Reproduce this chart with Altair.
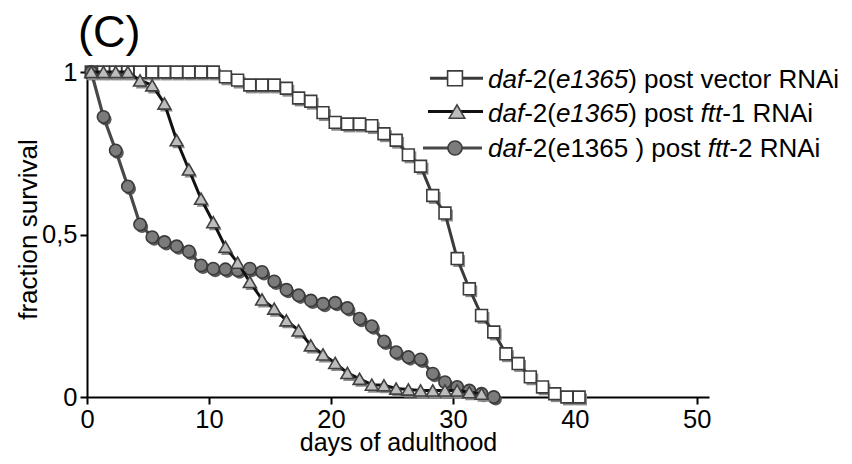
import altair as alt
import pandas as pd

# ---------------- data ----------------
SQ_DAYS = [0.35, 1.35, 2.35, 3.35, 4.35, 5.35, 6.35, 7.35, 8.35, 9.35, 10.35,
           11.35, 12.35, 13.35, 14.35, 15.35, 16.35, 17.35, 18.35, 19.35, 20.35,
           21.35, 22.35, 23.35, 24.35, 25.35, 26.35, 27.35, 28.35, 29.35, 30.35,
           31.35, 32.35, 33.35, 34.35, 35.35, 36.35, 37.35, 38.35, 39.35, 40.35]
SQ_VALS = [1.0, 1.0, 1.0, 1.0, 1.0, 1.0, 1.0, 1.0, 1.0, 1.0, 1.0,
           0.985, 0.975, 0.96, 0.96, 0.96, 0.95, 0.92, 0.91, 0.875, 0.845,
           0.84, 0.84, 0.835, 0.81, 0.79, 0.745, 0.71, 0.62, 0.566, 0.426,
           0.333, 0.251, 0.2, 0.133, 0.103, 0.062, 0.031, 0.01, 0.0, 0.0]

TR_DAYS = [0.35, 1.35, 2.35, 3.35, 4.35, 5.35, 6.35, 7.35, 8.35, 9.35, 10.35,
           11.35, 12.35, 13.35, 14.35, 15.35, 16.35, 17.35, 18.35, 19.35, 20.35,
           21.35, 22.35, 23.35, 24.35, 25.35, 26.35, 27.35, 28.35, 29.35, 30.35,
           31.35, 32.35]
TR_VALS = [1.0, 1.0, 1.0, 1.0, 0.974, 0.959, 0.903, 0.79, 0.70, 0.61, 0.538,
           0.462, 0.413, 0.354, 0.30, 0.272, 0.236, 0.205, 0.159, 0.131, 0.105,
           0.074, 0.056, 0.038, 0.036, 0.026, 0.023, 0.02, 0.02, 0.02, 0.02,
           0.015, 0.01]

CI_DAYS = [0.35, 1.35, 2.35, 3.35, 4.35, 5.35, 6.35, 7.35, 8.35, 9.35, 10.35,
           11.35, 12.35, 13.35, 14.35, 15.35, 16.35, 17.35, 18.35, 19.35, 20.35,
           21.35, 22.35, 23.35, 24.35, 25.35, 26.35, 27.35, 28.35, 29.35, 30.35,
           31.35, 32.35, 33.35]
CI_VALS = [1.0, 0.862, 0.759, 0.648, 0.531, 0.492, 0.477, 0.464, 0.448, 0.405, 0.395,
           0.393, 0.39, 0.395, 0.385, 0.356, 0.33, 0.313, 0.297, 0.287, 0.29,
           0.274, 0.241, 0.218, 0.171, 0.138, 0.123, 0.116, 0.072, 0.046, 0.031,
           0.02, 0.01, 0.0]

X_TICKS = [0, 10, 20, 30, 40, 50]
Y_TICKS = [0, 0.5, 1]

LEGEND_ROWS = [
    [("daf", "italic"), ("-2(", "normal"), ("e1365", "italic"), (") post vector RNAi", "normal")],
    [("daf", "italic"), ("-2(", "normal"), ("e1365", "italic"), (") post ", "normal"),
     ("ftt", "italic"), ("-1 RNAi", "normal")],
    [("daf", "italic"), ("-2(e1365 ) post ", "normal"), ("ftt", "italic"), ("-2 RNAi", "normal")],
]
PANEL_LABEL = "(C)"
X_TITLE = "days of adulthood"
Y_TITLE = "fraction survival"

# ---------------- styling ----------------
FONT = "Liberation Sans, Arial, Helvetica, sans-serif"
FS = 25.5
LFS = 26
W, H = 622, 325

# Arial / Liberation Sans advance widths (per 1000 em)
ADV = {'d': 556, 'a': 556, 'f': 278, '-': 333, '2': 556, '(': 333, 'e': 556, '1': 556,
       '3': 556, '6': 556, '5': 556, ')': 333, ' ': 278, 'p': 556, 'o': 556, 's': 500,
       't': 278, 'v': 500, 'c': 500, 'r': 333, 'R': 722, 'N': 722, 'A': 667, 'i': 222}


def text_width(s, size):
    return sum(ADV.get(ch, 556) for ch in s) / 1000.0 * size


xscale = alt.Scale(domain=[0, 51], nice=False, zero=False)
yscale = alt.Scale(domain=[0, 1], nice=False)

xaxis = alt.Axis(values=X_TICKS, format="d", title=X_TITLE, grid=False,
                 tickSize=7, tickWidth=2, tickColor="black",
                 domainWidth=2, domainColor="black",
                 labelFont=FONT, labelFontSize=FS, labelColor="black", labelPadding=3,
                 labelFlush=False,
                 titleFont=FONT, titleFontSize=25, titleFontWeight="normal", titleColor="black",
                 titleBaseline="alphabetic", titleY=53)
yaxis = alt.Axis(values=Y_TICKS, title=Y_TITLE, grid=False,
                 labelExpr="datum.value == 0.5 ? '0,5' : (datum.value == 1 ? '1' : '0')",
                 tickSize=7, tickWidth=2, tickColor="black",
                 domainWidth=2, domainColor="black",
                 labelFont=FONT, labelFontSize=FS, labelColor="black", labelPadding=3,
                 titleFont=FONT, titleFontSize=26, titleFontWeight="normal", titleColor="black",
                 titleX=-46, titleY=157)


def series(days, vals, shape, size, fill, stroke, line_color, line_w, shadow):
    df = pd.DataFrame({"day": days, "frac": vals})
    base = alt.Chart(df).encode(
        x=alt.X("day:Q", scale=xscale, axis=xaxis),
        y=alt.Y("frac:Q", scale=yscale, axis=yaxis),
    )
    sh = base.mark_point(shape=shape, size=size, filled=True, color=shadow,
                         opacity=1, xOffset=2, yOffset=2.5)
    ln = base.mark_line(color=line_color, strokeWidth=line_w)
    pt = base.mark_point(shape=shape, size=size, filled=True, fill=fill, stroke=stroke,
                         strokeWidth=1.6, opacity=1)
    return [sh, ln, pt]


def one():
    return alt.Chart(pd.DataFrame({"k": [0]}))


layers = []
layers += series(SQ_DAYS, SQ_VALS, "square", 140, "white", "#3c3c3c", "#3a3a3a", 3, "#8c8c8c")
layers += series(CI_DAYS, CI_VALS, "circle", 150, "#7b7b7b", "#3a3a3a", "#484848", 3.2, "#5a5a5a")
layers += series(TR_DAYS, TR_VALS, "triangle-up", 165, "#bdbdbd", "#404040", "#111111", 3, "#8c8c8c")

# ---------------- legend (drawn by hand for mixed italics) ----------------
LEG_TEXT_X = 401
leg_rows = [
    dict(x1=343, x2=396, y=6.3, sx=368, shape="square", size=220, fill="white",
         stroke="#3c3c3c", line="#3a3a3a", base=16.3),
    dict(x1=341, x2=396, y=39.5, sx=370, shape="triangle-up", size=240, fill="#bdbdbd",
         stroke="#404040", line="#111111", base=49.7),
    dict(x1=336, x2=395, y=76, sx=368, shape="circle", size=200, fill="#7b7b7b",
         stroke="#3a3a3a", line="#484848", base=84.7),
]
for row, segs in zip(leg_rows, LEGEND_ROWS):
    layers.append(one().mark_rule(color=row["line"], strokeWidth=3).encode(
        x=alt.value(row["x1"]), x2=alt.value(row["x2"]), y=alt.value(row["y"])))
    layers.append(one().mark_point(shape=row["shape"], size=row["size"], filled=True,
                                   fill=row["fill"], stroke=row["stroke"], strokeWidth=1.6,
                                   opacity=1).encode(
        x=alt.value(row["sx"]), y=alt.value(row["y"])))
    cx = LEG_TEXT_X
    for txt, style in segs:
        layers.append(one().mark_text(align="left", baseline="alphabetic", font=FONT,
                                      fontSize=LFS, fontStyle=style, color="black").encode(
            x=alt.value(cx), y=alt.value(row["base"]), text=alt.value(txt)))
        cx += text_width(txt, LFS)

# panel label
layers.append(one().mark_text(align="left", baseline="alphabetic", font=FONT,
                              fontSize=45, color="black").encode(
    x=alt.value(-9), y=alt.value(-25), text=alt.value(PANEL_LABEL)))

chart = alt.layer(*layers).properties(
    width=W, height=H,
    autosize=alt.AutoSizeParams(type="none"),
    padding={"left": 79, "top": 64, "right": 135, "bottom": 59},
    background="white",
).configure_view(stroke=None)

chart.save("out.html", embed_options={"renderer": "svg", "actions": False})
